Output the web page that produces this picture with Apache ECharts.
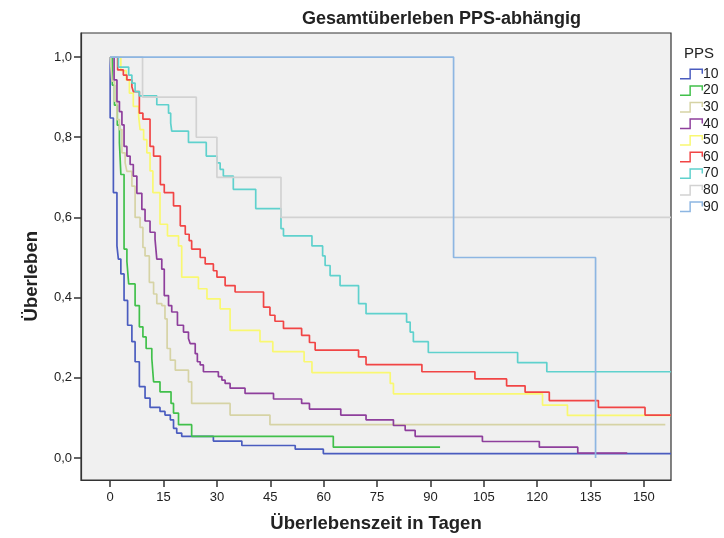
<!DOCTYPE html>
<html>
<head>
<meta charset="utf-8">
<script src="https://cdn.jsdelivr.net/npm/echarts@6/dist/echarts.min.js"></script>
<style>
  html, body { margin: 0; padding: 0; background: #fff; }
  #chart { width: 724px; height: 538px; }
</style>
</head>
<body>
<div id="chart"></div>
<script>
// Kaplan-Meier Kurven, [Tag, Überleben]
const pps10 = [[0,1],[0,0.848],[0.9,0.662],[1.9,0.529],[2.3,0.496],[3,0.459],[3.9,0.393],[4.9,0.331],[6.1,0.29],[7,0.24],[8.2,0.178],[9.8,0.149],[11.2,0.126],[14,0.116],[15.4,0.107],[16.9,0.095],[17.8,0.074],[18.7,0.062],[20.1,0.054],[29,0.042],[37,0.031],[52,0.022],[59.9,0.011],[157.6,0.011]]
const pps20 = [[0,1],[0.6,0.93],[1.2,0.88],[2,0.83],[2.6,0.786],[3,0.707],[3.9,0.521],[4.7,0.49],[5.2,0.434],[7,0.38],[8.2,0.327],[9.2,0.302],[10.1,0.273],[11.7,0.248],[12.2,0.19],[14,0.165],[17.1,0.136],[17.8,0.112],[19.2,0.083],[22.9,0.054],[62.7,0.027],[92.7,0.027]]
const pps30 = [[0,1],[0.5,0.94],[1.2,0.89],[1.9,0.844],[2.6,0.819],[3.3,0.761],[4.2,0.736],[4.7,0.715],[6.1,0.678],[7,0.6],[8.4,0.575],[9.2,0.525],[9.8,0.504],[11,0.438],[12.2,0.409],[13.1,0.385],[14.5,0.38],[15.4,0.347],[16,0.273],[16.9,0.244],[18.3,0.219],[22,0.19],[22.9,0.136],[33.7,0.107],[44.9,0.083],[156,0.083]]
const pps40 = [[0,1],[1.1,0.943],[1.9,0.889],[2.6,0.864],[3.3,0.831],[3.9,0.777],[4.7,0.753],[5.6,0.732],[6.5,0.703],[7.5,0.66],[8.9,0.62],[9.8,0.591],[11.2,0.563],[12.6,0.546],[13.1,0.496],[14.5,0.471],[15.2,0.405],[16.4,0.38],[17.3,0.364],[18.9,0.331],[20.6,0.314],[22,0.298],[22.5,0.285],[23.9,0.26],[24.5,0.24],[25.3,0.232],[26.2,0.215],[30.4,0.203],[31.4,0.194],[32.3,0.186],[33.7,0.174],[37.9,0.161],[45.9,0.147],[53.8,0.136],[56,0.122],[64.8,0.107],[71.9,0.095],[79.6,0.081],[82.9,0.069],[85.7,0.054],[104.6,0.041],[120.6,0.027],[131.4,0.012],[145.3,0.012]]
const pps50 = [[0,1],[3,0.966],[4.5,0.943],[5.4,0.91],[6.5,0.877],[8,0.852],[8.4,0.819],[9.4,0.794],[10.3,0.761],[11.2,0.716],[12,0.662],[14,0.583],[16.1,0.554],[19.2,0.529],[20.1,0.451],[24.8,0.422],[27.2,0.397],[30.9,0.372],[33.7,0.318],[42.1,0.29],[45.7,0.265],[54.5,0.24],[56.7,0.213],[78.7,0.186],[79.6,0.16],[121.5,0.132],[128.5,0.106],[157.6,0.106]]
const pps60 = [[0,1],[2.1,0.968],[3.7,0.955],[4.7,0.943],[6.1,0.926],[6.5,0.914],[8.2,0.86],[9.2,0.845],[11.2,0.777],[12.2,0.753],[14.1,0.682],[15.2,0.662],[17.8,0.629],[19.7,0.579],[21.1,0.558],[22.2,0.542],[22.9,0.521],[25.3,0.5],[26.7,0.484],[29,0.467],[30,0.451],[32.3,0.43],[35.1,0.414],[43.1,0.376],[44.9,0.356],[46.3,0.341],[48.7,0.323],[53.8,0.306],[56,0.288],[57.6,0.269],[69.8,0.252],[71.9,0.233],[87.6,0.215],[102.5,0.197],[111.4,0.18],[116.6,0.164],[123.4,0.143],[137.2,0.126],[150.3,0.107],[157.6,0.107]]
const pps70 = [[0,1],[2.3,0.975],[5.2,0.955],[6.1,0.935],[7,0.914],[8.2,0.903],[13.1,0.881],[16.4,0.86],[17,0.835],[17.3,0.815],[22,0.787],[27,0.753],[30,0.736],[30.9,0.72],[31.8,0.703],[34.6,0.67],[40.9,0.622],[48,0.572],[48.7,0.554],[56.7,0.529],[59.7,0.504],[60.4,0.48],[61.8,0.455],[64.6,0.43],[69.8,0.385],[71.9,0.36],[83.3,0.339],[84.3,0.314],[85.2,0.29],[89.4,0.263],[114.5,0.238],[122.7,0.215],[157.6,0.215]]
const pps80 = [[0,1],[9.1,0.9],[24.2,0.8],[30,0.7],[48,0.6],[157.6,0.6]]
const pps90 = [[0,1],[96.5,0.5],[136.4,0]]

const groups = ['10', '20', '30', '40', '50', '60', '70', '80', '90']
const curves = [pps10, pps20, pps30, pps40, pps50, pps60, pps70, pps80, pps90]
const colors = ['#4a5cbf', '#41c04b', '#d6d3a5', '#8e3f9c', '#f9f871', '#f14545', '#5fd1cd', '#d2d2d2', '#8db6e2']

const xTicks = [0, 15, 30, 45, 60, 75, 90, 105, 120, 135, 150]
const yTicks = [0, 0.2, 0.4, 0.6, 0.8, 1.0]

const font = "'Liberation Sans', Arial, sans-serif"
const chart = echarts.init(document.getElementById('chart'))

// Treppensymbol wie in SPSS
const stepIcon = 'path://M0,9 L9,9 L9,0 L22,0 L22,5 L20.6,5 L20.6,1.4 L10.4,1.4 L10.4,10.4 L0,10.4 Z'

const option = {
  animation: false,
  backgroundColor: '#fff',
  title: [
    {
      text: 'Gesamtüberleben PPS-abhängig',
      left: 297,
      top: 5,
      textStyle: { fontFamily: font, fontSize: 18, fontWeight: 'bold', color: '#222' }
    },
    {
      text: 'PPS',
      left: 679,
      top: 41,
      textStyle: { fontFamily: font, fontSize: 15, fontWeight: 'normal', color: '#222' }
    }
  ],
  legend: {
    orient: 'vertical',
    left: 675,
    top: 62,
    itemWidth: 23,
    itemHeight: 11,
    itemGap: 2.6,
    icon: stepIcon,
    data: groups,
    textStyle: { fontFamily: font, fontSize: 14, color: '#222', padding: [0, 0, 0, -5] }
  },
  graphic: [
    {
      type: 'text',
      left: 22,
      top: 231,
      rotation: Math.PI / 2,
      style: { text: 'Überleben', font: "bold 18.5px 'Liberation Sans', Arial, sans-serif", fill: '#222' }
    }
  ],
  grid: {
    left: 81,
    right: 53,
    top: 33,
    bottom: 56,
    show: true,
    backgroundColor: '#f0f0f0',
    borderColor: '#333',
    borderWidth: 1.2
  },
  xAxis: {
    type: 'value',
    min: -8.2,
    max: 157.6,
    name: 'Überlebenszeit in Tagen',
    nameLocation: 'middle',
    nameGap: 34,
    nameTextStyle: { fontFamily: font, fontSize: 18.5, fontWeight: 'bold', color: '#222' },
    axisLine: { show: true, onZero: false, lineStyle: { color: '#333', width: 1.2 } },
    axisTick: { show: true, length: 7, customValues: xTicks, lineStyle: { color: '#333', width: 1.5 } },
    axisLabel: { customValues: xTicks, fontFamily: font, fontSize: 13, color: '#222', margin: 11 },
    splitLine: { show: false }
  },
  yAxis: {
    type: 'value',
    min: -0.055,
    max: 1.06,
    axisLine: { show: true, onZero: false, lineStyle: { color: '#333', width: 1.2 } },
    axisTick: { show: true, length: 7, customValues: yTicks, lineStyle: { color: '#333', width: 1.5 } },
    axisLabel: {
      customValues: yTicks,
      fontFamily: font,
      fontSize: 13,
      color: '#222',
      margin: 9,
      formatter: v => v.toFixed(1).replace('.', ',')
    },
    splitLine: { show: false }
  },
  series: groups.map((g, i) => ({
    name: g,
    type: 'line',
    step: 'end',
    data: curves[i],
    showSymbol: false,
    symbol: 'none',
    color: colors[i],
    lineStyle: { width: 1.7, color: colors[i] },
    emphasis: { disabled: true }
  }))
}

chart.setOption(option)
window.addEventListener('resize', () => chart.resize())
</script>
</body>
</html>
